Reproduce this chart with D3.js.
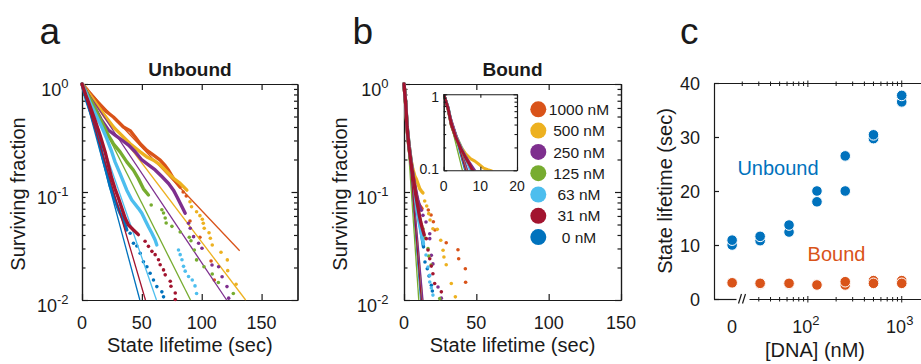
<!DOCTYPE html>
<html>
<head>
<meta charset="utf-8">
<script src="https://cdn.jsdelivr.net/npm/d3@7/dist/d3.min.js"></script>
<style>
  body { margin: 0; background: #fff; }
  svg text { font-family: "Liberation Sans", Arial, Helvetica, sans-serif; fill: #1a1a1a; }
</style>
</head>
<body>
<svg id="fig" width="921" height="364"></svg>
<script>
// ---------------- data ----------------
const concentrations = [1000, 500, 250, 125, 63, 31, 0];
const legendLabels = ["1000 nM", "500 nM", "250 nM", "125 nM", "63 nM", "31 nM", "0 nM"];
const seriesColors = ["#D95319", "#EDB120", "#7E2F8E", "#77AC30", "#4DBEEE", "#A2142F", "#0072BD"];
const drawOrder = [6, 0, 1, 2, 3, 4, 5];

// panel a (unbound) - exponential fits run from (0, 1) to these end points
const unboundFitEndT = [131.7, 136.7, 120.8, 90.6, 62.2, 53.0, 48.3];
const unboundFitEndS = [0.0286, 0.01, 0.01, 0.01, 0.01, 0.01, 0.01];

// survival curves: dense part [t, S] and sparse tail points [t, S]
const unbound1000Band = [[0,1],[4.5,0.88],[9.5,0.758],[15.1,0.635],[20.7,0.551],[26.2,0.495],[30.4,0.445],[34.6,0.400],[40.2,0.370],[44.4,0.323],[48.6,0.280],[54.2,0.243],[59.7,0.219],[65.3,0.197],[69.5,0.175],[72.3,0.159],[76.4,0.133],[82.0,0.111]];
const unbound1000Tail = [[84.5,0.100],[87.1,0.0918],[90.2,0.0539],[98.5,0.0381],[107.8,0.0230],[110.5,0.0153]];
const unbound500Band = [[0,1],[5,0.84],[10,0.70],[19.3,0.495],[25,0.41],[31.8,0.347],[40.2,0.280],[48.6,0.235],[54.2,0.211],[59.7,0.197],[65.3,0.178],[70.9,0.154],[76.4,0.134],[82.0,0.120],[87.6,0.104]];
const unbound500Tail = [[90.2,0.0813],[91.5,0.0731],[95.7,0.0657],[98.5,0.0604],[100.5,0.0559],[101.3,0.0513],[102.1,0.0461],[106.1,0.0420],[107.2,0.0373],[108.8,0.0323],[116.1,0.0277],[121.4,0.0235],[121.7,0.0187],[128.7,0.0140]];
const unbound250Band = [[0,1],[3.9,0.84],[10.9,0.600],[16,0.47],[22.0,0.375],[27.6,0.337],[33.2,0.303],[38.8,0.272],[44.4,0.236],[50.0,0.198],[55.5,0.178],[61.1,0.160],[66.7,0.139],[72.3,0.120],[76.4,0.104],[79.3,0.0905],[83.5,0.0731],[86.2,0.0635]];
const unbound250Tail = [[89.0,0.0513],[90.4,0.0461],[93.2,0.0386],[97.4,0.0335],[100.2,0.0301],[108.6,0.0211],[114.1,0.0203],[117.0,0.0164],[121.1,0.0133],[122.5,0.0104]];
const unbound125Band = [[0,1],[4,0.82],[8.1,0.686],[13.6,0.513],[17.8,0.415],[22.0,0.335],[26.2,0.280],[31.8,0.235],[37.4,0.190],[43.0,0.159],[47.1,0.133],[51.3,0.107],[55.5,0.0938]];
const unbound125Tail = [[57.8,0.0758],[66.7,0.0686],[68.1,0.0639],[69.5,0.0574],[70.3,0.0516],[75.1,0.0481],[82.0,0.0426],[89.6,0.0381],[91.0,0.0354],[93.8,0.0290],[95.7,0.0235],[101.9,0.0203],[108.8,0.0174],[113.9,0.0145],[126.4,0.0115]];
const unbound63Band = [[0,1],[3,0.85],[6.7,0.67],[12.3,0.50],[16.5,0.40],[20.7,0.312],[24.9,0.235],[27.6,0.190],[31.8,0.148],[34.6,0.124],[37.4,0.104],[41.6,0.0843],[47.1,0.0706],[50.0,0.0635],[52.7,0.0551],[55.5,0.0477],[58.4,0.0415],[61.1,0.0360],[62.5,0.0323]];
const unbound63Tail = [[80.6,0.0290],[82.0,0.0263],[83.5,0.0236],[84.8,0.0205],[86.2,0.0185],[89.0,0.0165],[92.1,0.0153],[94.4,0.0135],[95.7,0.0115]];
const unbound31Band = [[0,1],[3,0.80],[6.7,0.62],[10.9,0.46],[15.1,0.335],[19.3,0.235],[22.0,0.177],[24.9,0.133],[27.6,0.107],[30.4,0.0880],[33.2,0.0711],[36.0,0.0574],[38.8,0.0495],[43.0,0.0445],[47.1,0.0403]];
const unbound31Tail = [[52.7,0.0350],[55.5,0.0314],[58.4,0.0282],[61.1,0.0263],[63.9,0.0236],[65.3,0.0212],[68.1,0.0190],[69.5,0.0171],[73.7,0.0149],[74.3,0.0134],[77.9,0.0116],[77.9,0.0101]];
const unbound0Band = [[0,1],[3.9,0.70],[8.1,0.513],[12.3,0.360],[15.1,0.271],[17.8,0.203],[20.7,0.153],[23.4,0.115],[26.0,0.0938],[29.1,0.0758],[31.8,0.0639],[34.6,0.0551],[37.4,0.0445]];
const unbound0Tail = [[40.2,0.0415],[43.0,0.0335],[45.8,0.0316],[48.6,0.0271],[51.3,0.0226],[54.2,0.0203],[56.9,0.0177],[59.7,0.0153],[62.5,0.0133],[66.7,0.0119],[68.1,0.0107]];

// panel b (bound)
const boundFitEndT = [12.4, 12.9, 13.1, 10.2, 12.0, 12.0, 11.5];
const boundFitEndS = [0.01, 0.01, 0.01, 0.01, 0.01, 0.01, 0.01];
const bound1000Band = [[0,1],[1.2,0.64],[2.1,0.39],[3.4,0.26],[4.8,0.19],[5.8,0.155],[6.8,0.127],[7.6,0.108],[8.6,0.092],[9.5,0.082],[10.5,0.076],[12.5,0.07]];
const bound1000Tail = [[16.8,0.0681],[18.7,0.0612],[20.3,0.0531],[21.4,0.0445],[29.2,0.0339],[37.3,0.0292],[37.8,0.0241],[42.4,0.0195],[42.6,0.0146]];
const bound500Band = [[0,1],[1.2,0.66],[2.1,0.41],[3.4,0.28],[4.8,0.2],[6,0.165],[7.5,0.14],[8.5,0.132],[9.6,0.12],[10.9,0.107],[12,0.102],[13.1,0.098]];
const bound500Tail = [[14.3,0.0826],[15.7,0.0742],[17.1,0.0630],[18.0,0.0551],[20.0,0.0457],[23.0,0.0451],[25.4,0.0357],[27.0,0.0289],[27.6,0.0250],[29.2,0.0212],[32.7,0.0142],[35.5,0.0107]];
const bound250Band = [[0,1],[1.2,0.65],[2.1,0.40],[3.4,0.27],[4.8,0.19],[5.8,0.157],[6.8,0.13],[7.8,0.11],[8.7,0.095],[9.5,0.085],[10.5,0.076],[11.3,0.071]];
const bound250Tail = [[12.0,0.0677],[13.1,0.0608],[15.2,0.0527],[17.8,0.0411],[17.8,0.0370],[18.9,0.0259],[20.0,0.0216],[23.5,0.0132],[25.8,0.0104]];
const bound125Band = [[0,1],[1.2,0.64],[2.1,0.39],[3.4,0.26],[4.8,0.185],[5.8,0.15],[6.8,0.12],[7.6,0.1],[8.5,0.085],[9.5,0.07],[10.5,0.06],[11.5,0.052],[12.3,0.048]];
const bound125Tail = [[13.1,0.0457],[14.5,0.0375],[16.6,0.0299],[17.1,0.0255],[18.7,0.0211],[24.7,0.0103]];
const bound63Band = [[0,1],[1.2,0.66],[2.1,0.41],[3.4,0.27],[4.8,0.195],[5.8,0.155],[6.6,0.125],[7.3,0.1],[8.2,0.08],[9.2,0.065],[10.5,0.052],[12,0.041],[13.5,0.033]];
const bound63Tail = [[15.2,0.0261],[16.6,0.0202],[17.8,0.0169],[17.8,0.0147],[18.9,0.0129],[20.0,0.0111]];
const bound31Band = [[0,1],[1.2,0.65],[2.1,0.40],[3.4,0.265],[4.8,0.19],[5.8,0.153],[6.8,0.125],[7.6,0.105],[8.5,0.088],[9.5,0.074],[10.5,0.062],[11.5,0.053],[12.5,0.047],[14,0.04]];
const bound31Tail = [[15.4,0.0370],[16.6,0.0290],[17.8,0.0241],[18.9,0.0206],[20.0,0.0175],[21.2,0.0142],[25.8,0.0119]];
const bound0Band = [[0,1],[1.2,0.67],[2.1,0.42],[3.4,0.28],[4.8,0.2],[5.8,0.16],[6.6,0.13],[7.3,0.108],[8.2,0.088],[9.2,0.072],[10.3,0.058],[11.5,0.047],[12.5,0.038],[13.5,0.031]];
const bound0Tail = [[14.5,0.0225],[16.1,0.0195],[17.3,0.0167],[18.9,0.0137],[19.6,0.0121]];

// panel c - fitted lifetimes (sec), two replicates per concentration
const dnaConc = [0, 31, 63, 125, 250, 500, 1000];
const zeroAxisConc = 15.6;            // where the "0" concentration sits on the log axis
const unboundRepA = [10.0, 10.8, 12.4, 18.0, 20.0, 29.7, 36.5];
const unboundRepB = [10.9, 11.6, 13.7, 20.0, 26.5, 30.4, 37.7];
const boundRepA = [3.0, 2.8, 2.8, 2.7, 2.6, 3.4, 3.4];
const boundRepB = [3.0, 2.9, 2.9, 2.6, 3.2, 2.9, 2.9];

const ticksA = [0, 50, 100, 150];
const ticksB = [0, 50, 100, 150];
const ticksInset = [0, 10, 20];
const ticksCY = [0, 10, 20, 30, 40];

const unboundBands = [unbound1000Band, unbound500Band, unbound250Band, unbound125Band, unbound63Band, unbound31Band, unbound0Band];
const unboundTails = [unbound1000Tail, unbound500Tail, unbound250Tail, unbound125Tail, unbound63Tail, unbound31Tail, unbound0Tail];
const boundBands = [bound1000Band, bound500Band, bound250Band, bound125Band, bound63Band, bound31Band, bound0Band];
const boundTails = [bound1000Tail, bound500Tail, bound250Tail, bound125Tail, bound63Tail, bound31Tail, bound0Tail];

// ---------------- drawing ----------------
const svg = d3.select("#fig");
const INK = "#1a1a1a";

function styleAxis(sel, w) {
  sel.attr("font-size", null).attr("font-family", null);
  sel.select(".domain").attr("stroke", INK).attr("stroke-width", w);
  sel.selectAll(".tick line").attr("stroke", INK).attr("stroke-width", w);
  sel.selectAll(".tick text").remove();
}

function isDecade(v) {
  const l = Math.log10(v);
  return Math.abs(l - Math.round(l)) < 1e-6;
}

// full box with inward ticks, log y
function drawBox(g, x, y, xTicks, majLen, minLen, w) {
  const [x0, x1] = x.range(), [yb, yt] = y.range();
  const yMaj = y.ticks().filter(isDecade), yMin = y.ticks().filter(v => !isDecade(v));
  g.append("g").attr("transform", `translate(0,${yb})`)
    .call(d3.axisBottom(x).tickValues(xTicks).tickSize(-majLen).tickSizeOuter(0)).call(styleAxis, w);
  g.append("g").attr("transform", `translate(0,${yt})`)
    .call(d3.axisTop(x).tickValues(xTicks).tickSize(-majLen).tickSizeOuter(0)).call(styleAxis, w);
  [[d3.axisLeft, x0], [d3.axisRight, x1]].forEach(([ax, px]) => {
    g.append("g").attr("transform", `translate(${px},0)`)
      .call(ax(y).tickValues(yMaj).tickSize(-majLen).tickSizeOuter(0)).call(styleAxis, w);
    g.append("g").attr("transform", `translate(${px},0)`)
      .call(ax(y).tickValues(yMin).tickSize(-minLen).tickSizeOuter(0)).call(styleAxis, w);
  });
}

function drawSurvival(g, x, y, bands, tails, fitT, fitS, bandW, dotR) {
  const line = d3.line().x(d => x(d[0])).y(d => y(d[1]));
  drawOrder.forEach(i => {
    const c = seriesColors[i];
    g.append("path").datum(bands[i]).attr("d", line)
      .attr("fill", "none").attr("stroke", c).attr("stroke-width", bandW)
      .attr("stroke-linejoin", "round").attr("stroke-linecap", "round");
    g.selectAll(null).data(tails[i]).enter().append("circle")
      .attr("cx", d => x(d[0])).attr("cy", d => y(d[1])).attr("r", dotR).attr("fill", c);
    g.append("path").datum([[0, 1], [fitT[i], fitS[i]]]).attr("d", line)
      .attr("fill", "none").attr("stroke", c).attr("stroke-width", 1.3);
  });
}

function decadeLabels(g, y, xRight, size, supSize) {
  y.ticks().filter(isDecade).forEach(v => {
    const t = g.append("text").attr("x", xRight).attr("y", y(v) + 12)
      .attr("text-anchor", "end").attr("font-size", size);
    t.append("tspan").text("10");
    t.append("tspan").attr("dy", -8).attr("font-size", supSize).text(String(Math.round(Math.log10(v))));
  });
}

function xLabels(g, x, vals, yBase, size) {
  vals.forEach(v => g.append("text").attr("x", x(v)).attr("y", yBase)
    .attr("text-anchor", "middle").attr("font-size", size).text(v));
}

function vLabel(g, str, x, y, size) {
  g.append("text").attr("transform", `translate(${x},${y}) rotate(-90)`)
    .attr("text-anchor", "middle").attr("font-size", size).text(str);
}

// ----- panel a -----
const xA = d3.scaleLinear().domain([0, 180]).range([82, 297.5]);
const yA = d3.scaleLog().domain([0.01, 1]).range([300, 84]);
const gA = svg.append("g");
drawBox(gA, xA, yA, ticksA, 6, 3.5, 1.2);
drawSurvival(gA, xA, yA, unboundBands, unboundTails, unboundFitEndT, unboundFitEndS, 3.4, 1.8);
decadeLabels(gA, yA, 68.5, 18, 13);
xLabels(gA, xA, ticksA, 329, 18);
gA.append("text").attr("x", 190).attr("y", 76).attr("text-anchor", "middle")
  .attr("font-size", 19).attr("font-weight", "bold").text("Unbound");
gA.append("text").attr("x", (82 + 297.5) / 2).attr("y", 351.5).attr("text-anchor", "middle")
  .attr("font-size", 20).text("State lifetime (sec)");
vLabel(gA, "Surviving fraction", 25, 194, 20);
gA.append("text").attr("x", 39.5).attr("y", 43.5).attr("font-size", 37).text("a");

// ----- panel b -----
const xB = d3.scaleLinear().domain([0, 150]).range([404, 621]);
const yB = d3.scaleLog().domain([0.01, 1]).range([300, 84]);
const gB = svg.append("g");
drawBox(gB, xB, yB, ticksB, 6, 3.5, 1.2);
drawSurvival(gB, xB, yB, boundBands, boundTails, boundFitEndT, boundFitEndS, 3.4, 1.8);
decadeLabels(gB, yB, 388.5, 18, 13);
xLabels(gB, xB, ticksB, 329, 18);
gB.append("text").attr("x", 512.5).attr("y", 76).attr("text-anchor", "middle")
  .attr("font-size", 19).attr("font-weight", "bold").text("Bound");
gB.append("text").attr("x", 512.5).attr("y", 351.5).attr("text-anchor", "middle")
  .attr("font-size", 20).text("State lifetime (sec)");
vLabel(gB, "Surviving fraction", 346.5, 194, 20);
gB.append("text").attr("x", 352.5).attr("y", 43.5).attr("font-size", 37).text("b");

// inset
const xIn = d3.scaleLinear().domain([0, 20]).range([443.7, 517]);
const yIn = d3.scaleLog().domain([0.1, 1]).range([170.3, 94.3]);
const gIn = gB.append("g");
gIn.append("rect").attr("x", 443.7).attr("y", 94.3).attr("width", 73.3).attr("height", 76).attr("fill", "#fff");
svg.append("clipPath").attr("id", "insetClip").append("rect")
  .attr("x", 443.7).attr("y", 94.3).attr("width", 73.3).attr("height", 76);
const gInData = gIn.append("g").attr("clip-path", "url(#insetClip)");
drawSurvival(gInData, xIn, yIn, boundBands, boundBands.map(() => []), boundFitEndT, boundFitEndS, 3, 1.5);
drawBox(gIn, xIn, yIn, ticksInset, 3.5, 2.5, 1.1);
xLabels(gIn, xIn, ticksInset, 190.5, 14);
gIn.append("text").attr("x", 439).attr("y", 102).attr("text-anchor", "end").attr("font-size", 14).text("1");
gIn.append("text").attr("x", 439).attr("y", 174).attr("text-anchor", "end").attr("font-size", 14).text("0.1");

// legend
const gLeg = gB.append("g");
legendLabels.forEach((lab, i) => {
  const cy = 109.3 + i * 21.3;
  gLeg.append("circle").attr("cx", 538.3).attr("cy", cy).attr("r", 8).attr("fill", seriesColors[i]);
  gLeg.append("text").attr("x", 579).attr("y", cy + 5.6).attr("text-anchor", "middle")
    .attr("font-size", 15.5).text(lab);
});

// ----- panel c -----
const xC = d3.scaleLog().domain([10, 2000]).range([714, 930]);
const yC = d3.scaleLinear().domain([0, 40]).range([299, 83]);
const cx = c => xC(c === 0 ? zeroAxisConc : c);
const gC = svg.append("g");

gC.append("g").attr("transform", "translate(714,0)")
  .call(d3.axisLeft(yC).tickValues(ticksCY).tickSize(-5).tickSizeOuter(0)).call(styleAxis, 1.2);
ticksCY.forEach(v => gC.append("text").attr("x", 700).attr("y", yC(v) + 6.5)
  .attr("text-anchor", "end").attr("font-size", 18).text(v));

// top axis line and crossing log ticks
const logTicks = xC.ticks();
gC.append("line").attr("x1", 714).attr("x2", 930).attr("y1", 83.5).attr("y2", 83.5)
  .attr("stroke", INK).attr("stroke-width", 1.2);
gC.selectAll(null).data(logTicks.filter(v => v >= 20)).enter().append("line")
  .attr("x1", d => xC(d)).attr("x2", d => xC(d))
  .attr("y1", d => 83.5 - (isDecade(d) ? 3 : 2)).attr("y2", d => 83.5 + (isDecade(d) ? 3.5 : 2.5))
  .attr("stroke", INK).attr("stroke-width", 1);

// bottom axis with a break between the "0" position and 30 nM
gC.append("line").attr("x1", 714).attr("x2", 736.5).attr("y1", 299.5).attr("y2", 299.5)
  .attr("stroke", INK).attr("stroke-width", 1.2);
gC.append("line").attr("x1", 749.5).attr("x2", 930).attr("y1", 299.5).attr("y2", 299.5)
  .attr("stroke", INK).attr("stroke-width", 1.2);
[[738.5, 741.5], [742.5, 745.5]].forEach(([a, b]) => gC.append("line")
  .attr("x1", a).attr("y1", 303.5).attr("x2", b).attr("y2", 294)
  .attr("stroke", INK).attr("stroke-width", 1.2));
gC.selectAll(null).data(logTicks.filter(v => v >= 30)).enter().append("line")
  .attr("x1", d => xC(d)).attr("x2", d => xC(d))
  .attr("y1", d => 299.5 - (isDecade(d) ? 3.5 : 2.5)).attr("y2", d => 299.5 + (isDecade(d) ? 3 : 2))
  .attr("stroke", INK).attr("stroke-width", 1);

// x tick labels
gC.append("text").attr("x", cx(0)).attr("y", 333).attr("text-anchor", "middle").attr("font-size", 18).text("0");
[100, 1000].forEach(v => {
  const t = gC.append("text").attr("x", xC(v) - 2).attr("y", 333).attr("text-anchor", "middle").attr("font-size", 18);
  t.append("tspan").text("10");
  t.append("tspan").attr("dy", -8).attr("font-size", 13).text(String(Math.round(Math.log10(v))));
});

gC.append("text").attr("x", 815).attr("y", 357).attr("text-anchor", "middle").attr("font-size", 20).text("[DNA] (nM)");
vLabel(gC, "State lifetime (sec)", 671.5, 191, 20);
gC.append("text").attr("x", 680).attr("y", 43.5).attr("font-size", 37).text("c");

// points: replicate A underneath, replicate B on top
function lifetimeDots(vals, color) {
  gC.selectAll(null).data(dnaConc.map((c, i) => [c, vals[i]])).enter().append("circle")
    .attr("cx", d => cx(d[0])).attr("cy", d => yC(d[1])).attr("r", 5.3)
    .attr("fill", color).attr("stroke", "#fff").attr("stroke-width", 1);
}
lifetimeDots(unboundRepA, "#0072BD");
lifetimeDots(unboundRepB, "#0072BD");
lifetimeDots(boundRepA, "#D95319");
lifetimeDots(boundRepB, "#D95319");

gC.append("text").attr("x", 778).attr("y", 175).attr("text-anchor", "middle")
  .attr("font-size", 20).style("fill", "#0072BD").text("Unbound");
gC.append("text").attr("x", 836.5).attr("y", 260.5).attr("text-anchor", "middle")
  .attr("font-size", 20).style("fill", "#D95319").text("Bound");
</script>
</body>
</html>
